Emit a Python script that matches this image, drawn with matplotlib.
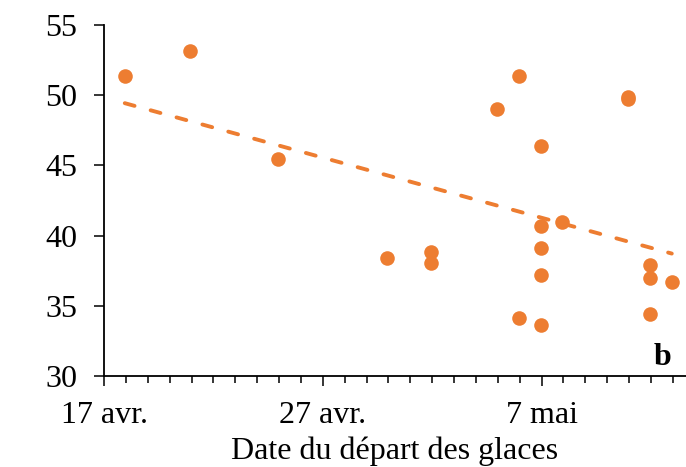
import matplotlib
matplotlib.use("Agg")
import matplotlib.pyplot as plt
import matplotlib.dates as mdates
import numpy as np
import pandas as pd

# dates du départ des glaces et valeurs
dates = ["2000-04-18", "2000-04-21", "2000-04-25", "2000-04-30", "2000-05-02",
         "2000-05-02", "2000-05-05", "2000-05-06", "2000-05-06", "2000-05-07",
         "2000-05-07", "2000-05-07", "2000-05-07", "2000-05-07", "2000-05-08",
         "2000-05-11", "2000-05-11", "2000-05-12", "2000-05-12", "2000-05-12",
         "2000-05-13"]
valeurs = [51.35, 53.15, 45.45, 38.4, 38.8, 38.05, 49.05, 51.35, 34.15, 46.35,
           40.7, 39.15, 37.2, 33.65, 40.95, 49.9, 49.7, 37.9, 37.0, 34.45, 36.7]
ticks_dates = ["2000-04-17", "2000-04-27", "2000-05-07"]
ticks_labels = ["17 avr.", "27 avr.", "7 mai"]

orange = "#ED7D31"
plt.rcParams["font.family"] = ["Liberation Serif", "DejaVu Serif"]

x = mdates.date2num(pd.to_datetime(dates))
y = np.array(valeurs)

fig = plt.figure(figsize=(6.86, 4.67), dpi=100)
ax = fig.add_axes([104 / 686, 91 / 467, 582 / 686, 351 / 467])

ax.scatter(x - 0.05, y, s=110, color=orange, zorder=3, linewidths=0)

# tendance linéaire
a, b = np.polyfit(x, y, 1)
xt = np.array([x.min(), x.max()])
line, = ax.plot(xt - 0.05, a * xt + b, color=orange, lw=2.8,
                dash_capstyle="round")
line.set_dashes((2.6, 4.3))

x0 = mdates.date2num(pd.Timestamp("2000-04-17"))
ax.set_xlim(x0, x0 + 26.6)
ax.set_ylim(30, 55)
ax.set_yticks([30, 35, 40, 45, 50, 55])

ax.set_xticks(mdates.date2num(pd.to_datetime(ticks_dates)))
ax.set_xticklabels(ticks_labels)
ax.xaxis.set_minor_locator(mdates.DayLocator())

for side in ["top", "right"]:
    ax.spines[side].set_visible(False)
for side in ["left", "bottom"]:
    ax.spines[side].set_linewidth(1.3)

ax.tick_params(axis="y", which="major", length=7, width=1.1, labelsize=23, pad=12)
ax.tick_params(axis="x", which="major", length=7, width=1.1, labelsize=23, pad=11)
ax.tick_params(axis="x", which="minor", length=5, width=1.1)

ax.set_xlabel("Date du départ des glaces", fontsize=23, labelpad=5)
ax.text(0.975, 0.01, "b", transform=ax.transAxes, fontsize=23,
        fontweight="bold", ha="right", va="bottom")

fig.savefig("out.png", dpi=100)
